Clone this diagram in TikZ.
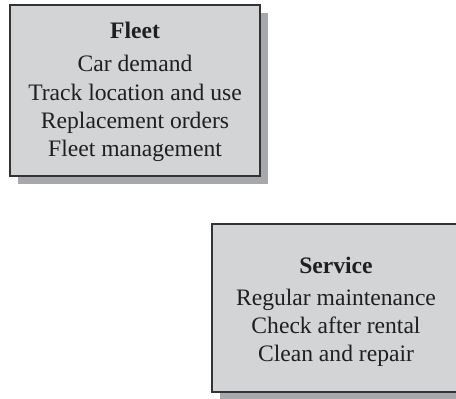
\documentclass[tikz,border=0pt]{standalone}
\usepackage{fontspec}
\setmainfont{Liberation Serif}
\definecolor{boxfill}{HTML}{D3D4D6}
\definecolor{boxshadow}{HTML}{A6A8AB}
\definecolor{boxline}{HTML}{333333}
\begin{document}
\begin{tikzpicture}[x=1pt,y=-1pt,
  panel/.style={fill=boxfill,draw=boxline,line width=1.6pt},
  shade/.style={fill=boxshadow},
  txt/.style={font=\fontsize{23.6}{28.3}\selectfont,anchor=base,inner sep=0pt,text=black!88}]
\useasboundingbox (0,0) rectangle (456,399);
\begin{scope}
\clip (0,0) rectangle (456,399);
% Fleet box with drop shadow
\fill[shade] (18,13) rectangle (268,184);
\draw[panel] (10,5) rectangle (260,176);
% Service box with drop shadow (runs off the right edge)
\fill[shade] (220,232) rectangle (500,401);
\draw[panel] (212,224) rectangle (492,392);
\end{scope}
% Fleet text
\node[txt] (ft) at (135,38.3) {\bfseries Fleet};
\node[txt] (f1) at (135,71.7) {Car demand};
\node[txt] (f2) at (135,100) {Track location and use};
\node[txt] (f3) at (135,128.3) {Replacement orders};
\node[txt] (f4) at (135,156.7) {Fleet management};
% Service text
\node[txt] (st) at (336,273.3) {\bfseries Service};
\node[txt] (s1) at (336,305) {Regular maintenance};
\node[txt] (s2) at (336,333.3) {Check after rental};
\node[txt] (s3) at (336,361.5) {Clean and repair};
\end{tikzpicture}
\end{document}
